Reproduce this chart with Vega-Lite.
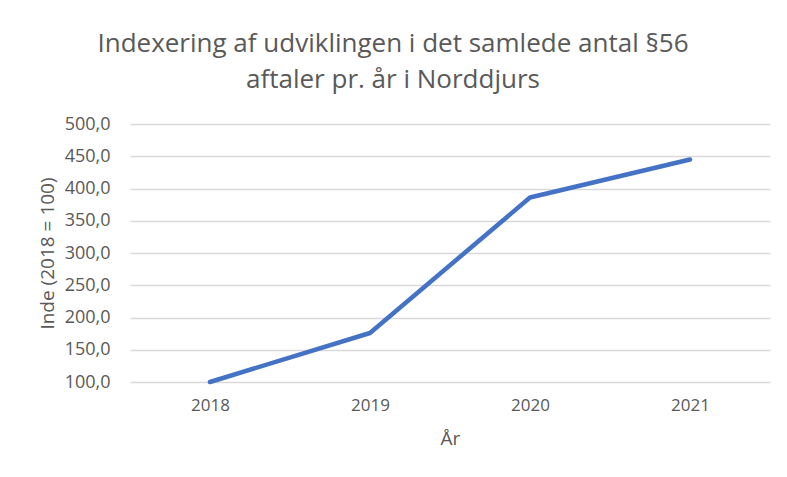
{
  "$schema": "https://vega.github.io/schema/vega-lite/v6.json",
  "autosize": "none",
  "width": 640,
  "height": 258,
  "padding": {"left": 130, "top": 124, "right": 17, "bottom": 95},
  "background": "white",
  "config": {
    "locale": {"number": {"decimal": ",", "thousands": ".", "grouping": [3], "currency": ["", " kr."]}},
    "view": {"stroke": null},
    "font": "Open Sans"
  },
  "title": {
    "text": ["Indexering af udviklingen i det samlede antal §56", "aftaler pr. år i Norddjurs"],
    "fontSize": 26,
    "fontWeight": "normal",
    "color": "#595959",
    "lineHeight": 36,
    "anchor": "middle",
    "dx": -57,
    "offset": 22
  },
  "data": {
    "values": [
      {"year": "2018", "index": 100},
      {"year": "2019", "index": 176},
      {"year": "2020", "index": 386},
      {"year": "2021", "index": 445}
    ]
  },
  "mark": {"type": "line", "color": "#4472c4", "strokeWidth": 4.5, "strokeCap": "round", "strokeJoin": "round"},
  "encoding": {
    "x": {
      "field": "year",
      "type": "ordinal",
      "scale": {"type": "point", "padding": 0.5},
      "axis": {
        "title": "År",
        "labelAngle": 0,
        "domain": false,
        "ticks": false,
        "grid": false,
        "labelFontSize": 17,
        "labelColor": "#595959",
        "labelPadding": 15,
        "titleFontSize": 19,
        "titleFontWeight": "normal",
        "titleColor": "#595959",
        "titlePadding": 16
      }
    },
    "y": {
      "field": "index",
      "type": "quantitative",
      "scale": {"domain": [100, 500], "nice": false, "zero": false},
      "axis": {
        "title": "Inde (2018 = 100)",
        "format": ".1f",
        "values": [100, 150, 200, 250, 300, 350, 400, 450, 500],
        "domain": false,
        "ticks": false,
        "gridColor": "#d9d9d9",
        "gridWidth": 1.3,
        "labelFontSize": 18,
        "labelColor": "#595959",
        "labelPadding": 20,
        "titleFontSize": 19,
        "titleFontWeight": "normal",
        "titleColor": "#595959",
        "titlePadding": 7
      }
    }
  }
}
